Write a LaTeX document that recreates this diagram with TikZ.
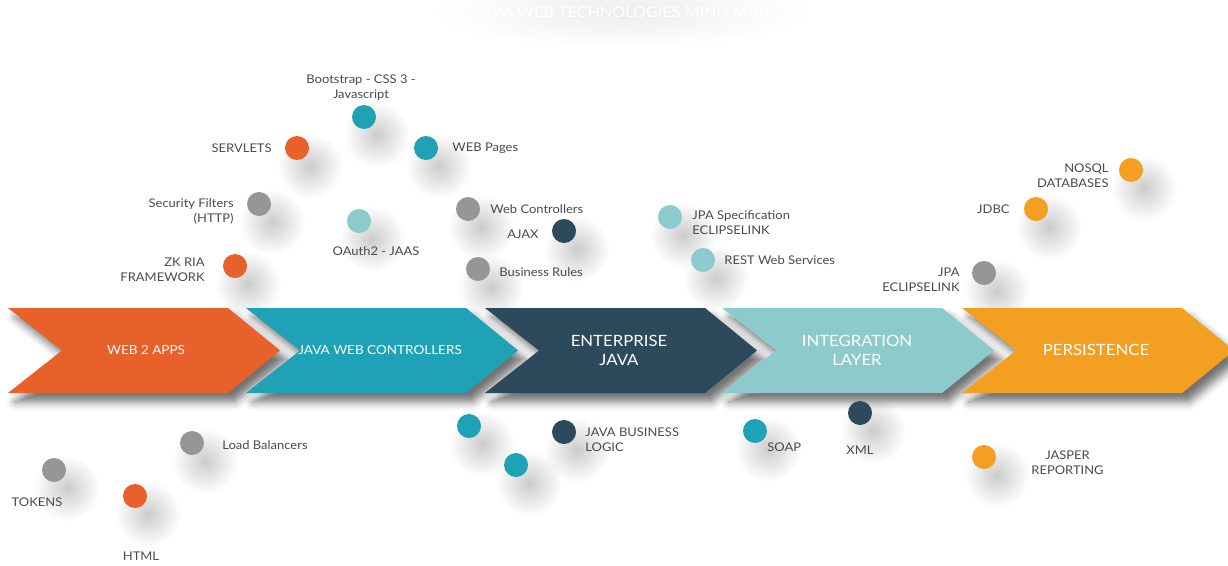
\documentclass[tikz,border=0pt]{standalone}
\usepackage{fontspec}
\setmainfont{Lato}[FakeStretch=1.08]
\usetikzlibrary{shadows.blur,positioning,fadings,backgrounds}
\definecolor{webOrange}{RGB}{232,97,43}
\definecolor{javaTeal}{RGB}{31,162,181}
\definecolor{enterpriseBlue}{RGB}{44,74,92}
\definecolor{integrationTeal}{RGB}{141,202,203}
\definecolor{persistOrange}{RGB}{242,159,34}
\definecolor{dotGray}{RGB}{150,150,150}
\definecolor{labelGray}{RGB}{74,74,74}
\tikzfading[name=softblob, inner color=transparent!0, outer color=transparent!100]

\begin{document}
\begin{tikzpicture}
  [x=1pt, y=-1pt,
    Dot/.style={circle, minimum size=24pt, inner sep=0pt},
    DotShadow/.style={fill=black, opacity=0.2, path fading=softblob},
    Label/.style={text=labelGray, font=\fontsize{12}{15}\selectfont, inner sep=0pt},
    Stage/.style={blur shadow={shadow xshift=7pt, shadow yshift=-9pt, shadow blur radius=8pt, shadow opacity=55}},
    StageText/.style={text=white, align=center, font=\fontsize{15.5}{19}\selectfont},
    SmallStageText/.style={StageText, font=\fontsize{12.5}{15}\selectfont}]
    \useasboundingbox (0,0) rectangle (1228,565);
    \node[text=white, font=\fontsize{15}{18}\selectfont] (title) at (622,12) {JAVA WEB TECHNOLOGIES MIND MAP};

    \fill[webOrange, Stage] (8,308) -- (228,308) -- (280,350.5) -- (228,393) -- (8,393) -- (62,350.5) -- cycle;
    \fill[javaTeal, Stage] (246,308) -- (466,308) -- (518,350.5) -- (466,393) -- (246,393) -- (300,350.5) -- cycle;
    \fill[enterpriseBlue, Stage] (485,308) -- (705,308) -- (757,350.5) -- (705,393) -- (485,393) -- (539,350.5) -- cycle;
    \fill[integrationTeal, Stage] (722,308) -- (942,308) -- (994,350.5) -- (942,393) -- (722,393) -- (776,350.5) -- cycle;
    \fill[persistOrange, Stage] (962,308) -- (1182,308) -- (1234,350.5) -- (1182,393) -- (962,393) -- (1016,350.5) -- cycle;
    \node[SmallStageText] (web) at (146,350) {WEB 2 APPS};
    \node[SmallStageText] (javaWeb) at (380,350) {JAVA WEB CONTROLLERS};
    \node[StageText] (enterprise) at (619,350) {ENTERPRISE\\JAVA};
    \node[StageText] (integration) at (857,350) {INTEGRATION\\LAYER};
    \node[StageText] (persistence) at (1096,350) {PERSISTENCE};

    \node[Dot, fill=javaTeal] (bootstrap) at (364,117) {};
    \node[Dot, fill=webOrange] (servlets) at (297,148) {};
    \node[Dot, fill=javaTeal] (webPages) at (426,148) {};
    \node[Dot, fill=dotGray] (security) at (259,204) {};
    \node[Dot, fill=integrationTeal] (oauth) at (359,221) {};
    \node[Dot, fill=webOrange] (zk) at (235,266) {};
    \node[Dot, fill=dotGray] (webCtrl) at (468,209) {};
    \node[Dot, fill=enterpriseBlue] (ajax) at (564,231) {};
    \node[Dot, fill=dotGray] (bizRules) at (478,269) {};
    \node[Dot, fill=integrationTeal] (jpaSpec) at (670,217) {};
    \node[Dot, fill=integrationTeal] (rest) at (703,260) {};
    \node[Dot, fill=persistOrange] (nosql) at (1131,170) {};
    \node[Dot, fill=persistOrange] (jdbc) at (1036,209) {};
    \node[Dot, fill=dotGray] (jpaLink) at (984,273) {};
    \node[Dot, fill=dotGray] (loadBal) at (192,443) {};
    \node[Dot, fill=dotGray] (tokens) at (54,470) {};
    \node[Dot, fill=webOrange] (html) at (135,496) {};
    \node[Dot, fill=javaTeal] (tealA) at (469,426) {};
    \node[Dot, fill=javaTeal] (tealB) at (516,465) {};
    \node[Dot, fill=enterpriseBlue] (javaBiz) at (564,432) {};
    \node[Dot, fill=javaTeal] (soap) at (755,431) {};
    \node[Dot, fill=enterpriseBlue] (xml) at (860,413) {};
    \node[Dot, fill=persistOrange] (jasper) at (984,457) {};

    \begin{scope}[on background layer]
      \fill[black, opacity=0.07, path fading=softblob] (title.center) ellipse (190pt and 36pt);
      \foreach \d in {bootstrap,servlets,webPages,security,oauth,zk,webCtrl,ajax,bizRules,jpaSpec,rest,nosql,jdbc,jpaLink,loadBal,tokens,html,tealA,tealB,javaBiz,soap,xml,jasper}
        \fill[DotShadow] ([shift={(13,18)}]\d.center) circle (33pt);
    \end{scope}

    \node[Label, align=center, above=4pt of bootstrap, xshift=-3pt] (bootstrapText) {Bootstrap - CSS 3 -\\Javascript};
    \node[Label, left=13pt of servlets] (servletsText) {SERVLETS};
    \node[Label, right=14pt of webPages] (webPagesText) {WEB Pages};
    \node[Label, align=right, left=13pt of security, yshift=-7pt] (securityText) {Security Filters\\(HTTP)};
    \node[Label, below=13pt of oauth, xshift=17pt] (oauthText) {OAuth2 - JAAS};
    \node[Label, align=right, left=18pt of zk, yshift=-4pt] (zkText) {ZK RIA\\FRAMEWORK};
    \node[Label, right=10pt of webCtrl] (webCtrlText) {Web Controllers};
    \node[Label, left=13pt of ajax, yshift=-3pt] (ajaxText) {AJAX};
    \node[Label, right=9pt of bizRules, yshift=-3pt] (bizRulesText) {Business Rules};
    \node[Label, align=left, right=10pt of jpaSpec, yshift=-6pt] (jpaSpecText) {JPA Specification\\ECLIPSELINK};
    \node[Label, right=9pt of rest] (restText) {REST Web Services};
    \node[Label, align=right, left=10pt of nosql, yshift=-6pt] (nosqlText) {NOSQL\\DATABASES};
    \node[Label, left=14pt of jdbc] (jdbcText) {JDBC};
    \node[Label, align=right, left=12pt of jpaLink, yshift=-7pt] (jpaLinkText) {JPA\\ECLIPSELINK};
    \node[Label, right=18pt of loadBal, yshift=-2pt] (loadBalText) {Load Balancers};
    \node[Label, below=15pt of tokens, xshift=-17pt] (tokensText) {TOKENS};
    \node[Label, below=43pt of html, xshift=6pt] (htmlText) {HTML};
    \node[Label, align=left, right=9pt of javaBiz, yshift=-8pt] (javaBizText) {JAVA BUSINESS\\LOGIC};
    \node[Label, right=0pt of soap, yshift=-16pt] (soapText) {SOAP};
    \node[Label, below=20pt of xml] (xmlText) {XML};
    \node[Label, align=center, right=35pt of jasper, yshift=-6pt] (jasperText) {JASPER\\REPORTING};
\end{tikzpicture}
\end{document}
